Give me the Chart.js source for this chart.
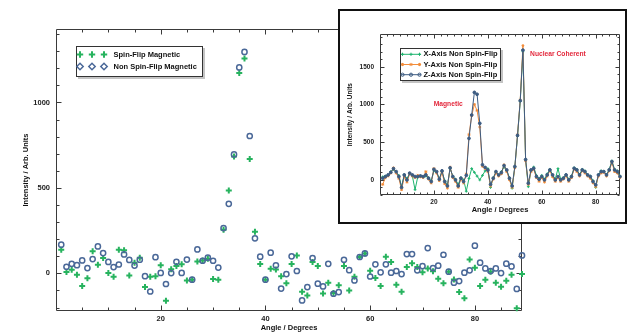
<!DOCTYPE html>
<html>
<head>
<meta charset="utf-8">
<script src="https://cdn.jsdelivr.net/npm/chart.js@4.4.1/dist/chart.umd.min.js"></script>
<style>
  html, body { margin: 0; padding: 0; background: #fff; }
  #wrap { position: relative; width: 628px; height: 333px; overflow: hidden; }
  #main { position: absolute; left: 0; top: 0; }
  #insetBox { position: absolute; left: 338px; top: 9px; width: 285px; height: 211px;
              border: 2px solid #111; background: #fff; }
  #inset { position: absolute; left: 0; top: 0; }
</style>
</head>
<body>
<div id="wrap">
  <canvas id="main" width="628" height="333"></canvas>
  <div id="insetBox"><canvas id="inset" width="285" height="211"></canvas></div>
</div>
<script>
// Scattering angle grid, 1..89 degrees in 1 degree steps
const angles = Array.from({ length: 89 }, (_, i) => i + 1);

// Labelled tick positions
const angleTicks = [20, 40, 60, 80];
const mainIntensityTicks = [0, 500, 1000];
const insetIntensityTicks = [0, 500, 1000, 1500];

// Main panel: magnetic cross-sections (arb. units)
const spinFlipMagnetic = [
  139, 8, 21, -8, -74, -29, 129, 51, 90, 2,
  -19, 139, 135, -12, 62, 91, -80, -19, -16, 47,
  -160, 25, 43, 53, -41, -37, 70, 76, 85, -33,
  -37, 255, 485, 684, 1172, 1257, 669, 244, 55, -37,
  27, 23, -17, -58, 55, 105, -107, -130, 66, 43,
  -117, -54, -115, -70, 43, -100, -19, 96, 117, 16,
  -27, -74, 98, 66, -66, -107, 37, 59, 37, 6,
  29, 12, -31, -58, 10, -35, -109, -146, 82, 33,
  -74, -37, 10, -54, -78, -43, -8, -204, -4
];
const nonSpinFlipMagnetic = [
  168, 39, 56, 48, 76, 31, 84, 158, 119, 67,
  37, 52, 111, 79, 46, 80, -16, -106, 95, 3,
  -62, 2, 68, 3, 81, -37, 140, 74, 92, 74,
  34, 265, 407, 696, 1205, 1296, 804, 205, 98, -37,
  121, 47, -89, -4, 100, 14, -158, -80, 90, -60,
  -76, 56, -119, -109, 80, 19, -41, 96, 117, -18,
  53, 6, 53, 4, 14, -4, 113, 113, 18, 43,
  148, 31, 45, 109, 10, -54, -45, 4, 18, 162,
  63, 29, 14, 29, 2, 57, 41, -91, 105
];

// Inset: non spin-flip intensity for the three polarisation axes
const xAxisNSF = [
  40, 50, 60, 110, 140, 100, 60, -90, 70, 20,
  80, 50, -130, 40, 50, 40, 50, 30, -10, 120,
  100, 20, 110, -10, -70, 150, 50, 10, -60, 30,
  0, -150, 20, 150, 100, 50, 0, 60, 120, 150,
  -100, 30, 100, 60, 110, 170, 120, 30, -110, 170,
  580, 1040, 1700, 260, -90, 120, 170, 60, 20, 60,
  10, 80, 140, 70, 10, 150, 10, 30, 70, 10,
  50, 160, 140, 70, 140, 120, 70, 50, -10, -100,
  70, 120, 110, 70, 140, 250, 140, 120, 50
];
const yAxisNSF = [
  -60, 30, 50, 90, 160, 90, 20, -130, 40, -30,
  80, 50, 30, 60, 40, 30, 110, 10, -40, 150,
  90, -10, 100, -50, -110, 170, 30, -20, -100, 10,
  -40, 80, 600, 850, 1000, 920, 700, 180, 150, 110,
  -80, 10, 90, 50, 80, 200, 110, 0, -100, 160,
  600, 1060, 1780, 250, -60, 110, 140, 30, -20, 30,
  -30, 50, 120, 40, -20, 30, -20, 10, 50, -20,
  30, 140, 110, 50, 120, 90, 50, 20, -40, -90,
  50, 90, 100, 50, 120, 230, 110, 90, 30
];
const zAxisNSF = [
  22, 44, 66, 100, 150, 110, 44, -100, 66, 0,
  90, 66, 44, 44, 53, 44, 66, 22, -22, 140,
  110, 9, 120, -22, -80, 160, 44, 0, -80, 22,
  -22, 60, 550, 860, 1160, 1135, 750, 200, 165, 130,
  -60, 22, 110, 66, 97, 190, 132, 22, -80, 177,
  590, 1050, 1720, 270, -44, 132, 154, 44, 9, 44,
  0, 66, 132, 66, 0, 44, 0, 22, 66, 0,
  44, 154, 132, 66, 132, 110, 66, 44, -22, -66,
  66, 110, 110, 66, 132, 243, 132, 110, 44
];

const GREEN = '#27b35e';
const BLUE = '#4a6898';
const X_COL = '#1fb36e';
const Y_COL = '#f28c3a';
const Z_COL = '#3d5c82';
const FAMILY = '"Liberation Sans", Arial, Helvetica, sans-serif';
const font75 = { family: FAMILY, size: 7.5, weight: 'bold' };
const font65 = { family: FAMILY, size: 6.5, weight: 'bold' };

const pts = (ys) => angles.map((a, i) => ({ x: a, y: ys[i] }));
const fixedTicks = (values) => (scale) => { scale.ticks = values.map((v) => ({ value: v })); };
const plainLabel = (v) => String(v);

// Box frame with inward-pointing major/minor ticks on all four sides
const frameTicks = {
  id: 'frameTicks',
  beforeDatasetsDraw(chart, args, o) {
    const { ctx, chartArea: a } = chart;
    const xs = chart.scales.x, ys = chart.scales.y;
    const L = Math.round(a.left) + 0.5, R = Math.round(a.right) - 0.5;
    const T = Math.round(a.top) + 0.5, B = Math.round(a.bottom) - 0.5;
    ctx.save();
    ctx.strokeStyle = o.color;
    ctx.lineWidth = 1;
    ctx.beginPath();
    ctx.rect(L, T, R - L, B - T);
    for (let v = o.xStep; v < xs.max; v += o.xStep) {
      const p = Math.round(xs.getPixelForValue(v)) + 0.5;
      const len = Math.abs(v % o.xMajor) < 1e-6 ? o.major : o.minor;
      ctx.moveTo(p, B); ctx.lineTo(p, B - len);
      ctx.moveTo(p, T); ctx.lineTo(p, T + len);
    }
    for (let v = Math.ceil(ys.min / o.yStep) * o.yStep; v <= ys.max; v += o.yStep) {
      const p = Math.round(ys.getPixelForValue(v)) + 0.5;
      const len = Math.abs(v % o.yMajor) < 1e-6 ? o.major : o.minor;
      ctx.moveTo(L, p); ctx.lineTo(L + len, p);
      ctx.moveTo(R, p); ctx.lineTo(R - len, p);
    }
    ctx.stroke();
    ctx.restore();
  }
};

function legendFrame(ctx, x, y, w, h) {
  ctx.fillStyle = '#c4c4c4';
  ctx.fillRect(x + 2, y + 2, w, h);
  ctx.fillStyle = '#fff';
  ctx.fillRect(x, y, w, h);
  ctx.strokeStyle = '#333';
  ctx.lineWidth = 1;
  ctx.strokeRect(x + 0.5, y + 0.5, w - 1, h - 1);
}

function marker(ctx, style, radius, width, color, x, y) {
  ctx.strokeStyle = color;
  ctx.fillStyle = 'rgba(0,0,0,0)';
  ctx.lineWidth = width;
  Chart.helpers.drawPoint(ctx, { pointStyle: style, radius: radius, rotation: 0, borderWidth: width }, x, y);
}

const mainLegend = {
  id: 'mainLegend',
  afterDraw(chart) {
    const ctx = chart.ctx;
    ctx.save();
    legendFrame(ctx, 76, 46, 127, 31);
    const rows = [
      { text: 'Spin-Flip Magnetic', style: 'cross', r: 3.2, w: 2, c: GREEN, y: 54.5 },
      { text: 'Non Spin-Flip Magnetic', style: 'rectRot', r: 3.2, w: 1.5, c: BLUE, y: 66.5 }
    ];
    ctx.font = 'bold 7.5px ' + FAMILY;
    ctx.textBaseline = 'middle';
    for (const row of rows) {
      for (const mx of [80, 92, 104]) marker(ctx, row.style, row.r, row.w, row.c, mx, row.y);
      ctx.fillStyle = '#111';
      ctx.fillText(row.text, 113.5, row.y);
    }
    ctx.restore();
  }
};

const insetDecor = {
  id: 'insetDecor',
  afterDraw(chart) {
    const ctx = chart.ctx;
    const xs = chart.scales.x, ys = chart.scales.y;
    ctx.save();
    // peak annotations
    ctx.font = 'bold 6.7px ' + FAMILY;
    ctx.fillStyle = '#e3283c';
    ctx.textAlign = 'center';
    ctx.textBaseline = 'middle';
    ctx.fillText('Magnetic', xs.getPixelForValue(25.3), ys.getPixelForValue(1006));
    ctx.fillText('Nuclear Coherent', xs.getPixelForValue(66), ys.getPixelForValue(1665));
    // legend
    ctx.textAlign = 'left';
    legendFrame(ctx, 60, 37, 101, 33);
    const rows = [
      { text: 'X-Axis Non Spin-Flip', style: 'cross', c: X_COL, y: 43.3 },
      { text: 'Y-Axis Non Spin-Flip', style: 'star', c: Y_COL, y: 53.5 },
      { text: 'Z-Axis Non Spin-Flip', style: 'circle', c: Z_COL, y: 63.7 }
    ];
    ctx.font = 'bold 7.5px ' + FAMILY;
    for (const row of rows) {
      ctx.strokeStyle = row.c;
      ctx.lineWidth = 1;
      ctx.beginPath();
      ctx.moveTo(61, row.y); ctx.lineTo(81, row.y);
      ctx.stroke();
      for (const mx of [62.5, 71, 79.5]) marker(ctx, row.style, 1.6, 1, row.c, mx, row.y);
      ctx.fillStyle = '#111';
      ctx.fillText(row.text, 83.5, row.y);
    }
    ctx.restore();
  }
};

// Main scatter panel
new Chart(document.getElementById('main'), {
  type: 'scatter',
  data: {
    datasets: [
      { label: 'Non Spin-Flip Magnetic', data: pts(nonSpinFlipMagnetic), pointStyle: 'circle',
        pointRadius: 2.6, pointBorderWidth: 1.5, borderColor: BLUE, backgroundColor: 'rgba(0,0,0,0)',
        order: 0, clip: false },
      { label: 'Spin-Flip Magnetic', data: pts(spinFlipMagnetic), pointStyle: 'cross',
        pointRadius: 3, pointBorderWidth: 2, borderColor: GREEN, backgroundColor: GREEN,
        order: 1, clip: false }
    ]
  },
  options: {
    responsive: false, animation: false, events: [],
    layout: { padding: { left: 0, top: 29, right: 106, bottom: 0 } },
    plugins: {
      legend: { display: false }, tooltip: { enabled: false },
      frameTicks: { color: '#3a3a3a', xStep: 5, xMajor: 20, yStep: 100, yMajor: 500, major: 5, minor: 3 }
    },
    scales: {
      x: {
        type: 'linear', min: 0, max: 89,
        grid: { display: false, drawTicks: false }, border: { display: false },
        ticks: { padding: 3.5, color: '#222', font: font75, maxRotation: 0, autoSkip: false,
                 callback: plainLabel },
        afterBuildTicks: fixedTicks(angleTicks),
        title: { display: true, text: 'Angle / Degrees', color: '#111', font: font75,
                 padding: { top: 0, bottom: 0.5 } },
        afterFit: (s) => { s.height = 22; }
      },
      y: {
        type: 'linear', min: -220, max: 1430,
        grid: { display: false, drawTicks: false }, border: { display: false },
        ticks: { padding: 6, color: '#222', font: font75, autoSkip: false, callback: plainLabel },
        afterBuildTicks: fixedTicks(mainIntensityTicks),
        title: { display: true, text: 'Intensity / Arb. Units', color: '#111', font: font75,
                 padding: { top: 21.5, bottom: 0 } },
        afterFit: (s) => { s.width = 56; }
      }
    }
  },
  plugins: [frameTicks, mainLegend]
});

// Inset line panel
const lineSet = (label, ys, color, style, order) => ({
  label, data: pts(ys), borderColor: color, backgroundColor: color, borderWidth: 1,
  pointStyle: style, pointRadius: 1.4, pointBorderWidth: 1, tension: 0, order, clip: false
});

new Chart(document.getElementById('inset'), {
  type: 'line',
  data: {
    datasets: [
      lineSet('Z-Axis Non Spin-Flip', zAxisNSF, Z_COL, 'circle', 0),
      lineSet('Y-Axis Non Spin-Flip', yAxisNSF, Y_COL, 'star', 1),
      lineSet('X-Axis Non Spin-Flip', xAxisNSF, X_COL, 'cross', 2)
    ]
  },
  options: {
    responsive: false, animation: false, events: [],
    layout: { padding: { left: 0, top: 23.3, right: 1.3, bottom: 0 } },
    plugins: {
      legend: { display: false }, tooltip: { enabled: false },
      frameTicks: { color: '#3a3a3a', xStep: 2.5, xMajor: 20, yStep: 100, yMajor: 500, major: 4, minor: 2 }
    },
    scales: {
      x: {
        type: 'linear', min: 0, max: 89,
        grid: { display: false, drawTicks: false }, border: { display: false },
        ticks: { padding: 3.8, color: '#222', font: font65, maxRotation: 0, autoSkip: false,
                 callback: plainLabel },
        afterBuildTicks: fixedTicks(angleTicks),
        title: { display: true, text: 'Angle / Degrees', color: '#111', font: font75,
                 padding: { top: 0, bottom: 7.5 } },
        afterFit: (s) => { s.height = 27; }
      },
      y: {
        type: 'linear', min: -200, max: 1930,
        grid: { display: false, drawTicks: false }, border: { display: false },
        ticks: { padding: 6, color: '#222', font: font65, autoSkip: false, callback: plainLabel },
        afterBuildTicks: fixedTicks(insetIntensityTicks),
        title: { display: true, text: 'Intensity / Arb. Units', color: '#111', font: font65,
                 padding: { top: 6.5, bottom: 0 } },
        afterFit: (s) => { s.width = 40; }
      }
    }
  },
  plugins: [frameTicks, insetDecor]
});
</script>
</body>
</html>
